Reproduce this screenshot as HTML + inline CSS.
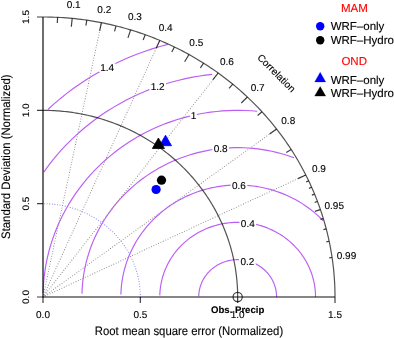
<!DOCTYPE html>
<html><head><meta charset="utf-8"><style>
html,body{margin:0;padding:0;background:#fff;width:394px;height:338px;overflow:hidden}
svg{display:block;will-change:transform}
text{font-family:"Liberation Sans",sans-serif;text-rendering:geometricPrecision;stroke:#000;stroke-width:0.22px;stroke-opacity:0.55}
text.red{stroke:#f00}
</style></head><body>
<svg width="394" height="338" viewBox="0 0 394 338">
<polyline points="276.6,297 276.58,295.88 276.53,294.76 276.44,293.64 276.32,292.53 276.16,291.42 275.97,290.32 275.74,289.22 275.48,288.13 275.19,287.04 274.86,285.97 274.5,284.9 274.1,283.85 273.68,282.81 273.22,281.78 272.72,280.76 272.2,279.76 271.65,278.77 271.06,277.81 270.44,276.85 269.8,275.92 269.13,275.01 268.42,274.11 267.69,273.24 266.94,272.38 266.15,271.55 265.34,270.74 264.51,269.96 263.65,269.2 262.77,268.47 261.87,267.76 260.94,267.07 260,266.42 259.03,265.79 258.04,265.19 257.04,264.62 256.02,264.07 254.98,263.56 253.93,263.08 252.86,262.63 251.77,262.2 250.68,261.81 249.57,261.46 248.46,261.13 247.33,260.83 246.19,260.57 245.05,260.34 243.9,260.15 242.74,259.99 241.58,259.86 240.42,259.76 239.25,259.7 238.09,259.67 236.92,259.67 235.75,259.71 234.59,259.78 233.42,259.89 232.26,260.03 231.11,260.2 229.96,260.4 228.82,260.64 227.69,260.91 226.56,261.22 225.45,261.55 224.35,261.92 223.25,262.32 222.18,262.75 221.11,263.21 220.06,263.7 219.03,264.22 218.01,264.77 217.01,265.35 216.03,265.96 215.07,266.6 214.13,267.26 213.21,267.95 212.31,268.67 211.44,269.41 210.59,270.18 209.76,270.97 208.96,271.78 208.18,272.62 207.43,273.48 206.71,274.36 206.02,275.26 205.35,276.18 204.71,277.12 204.11,278.08 203.53,279.05 202.98,280.04 202.47,281.04 201.98,282.06 201.53,283.1 201.12,284.14 200.73,285.2 200.38,286.27 200.06,287.34 199.77,288.43 199.52,289.52 199.31,290.63 199.12,291.73 198.98,292.84 198.86,293.96 198.79,295.07 198.74,296.19" fill="none" stroke="#A020F0" stroke-width="1.15" stroke-opacity="0.72"/>
<polyline points="315.53,297 315.5,294.76 315.39,292.52 315.22,290.29 314.97,288.06 314.66,285.84 314.28,283.63 313.82,281.43 313.3,279.25 312.71,277.08 312.06,274.93 311.33,272.8 310.54,270.7 309.69,268.61 308.77,266.55 307.78,264.52 306.73,262.52 305.62,260.55 304.45,258.61 303.22,256.71 301.93,254.84 300.59,253.01 299.18,251.22 297.72,249.47 296.21,247.77 294.64,246.1 293.02,244.49 291.36,242.92 289.64,241.4 287.88,239.93 286.07,238.51 284.22,237.15 282.32,235.83 280.39,234.58 278.42,233.38 276.41,232.23 274.37,231.15 272.29,230.12 270.18,229.16 268.05,228.25 265.88,227.41 263.69,226.63 261.48,225.91 259.25,225.26 256.99,224.67 254.72,224.15 252.43,223.69 250.13,223.3 247.82,222.97 245.5,222.71 243.17,222.52 240.84,222.4 238.51,222.34 236.17,222.35 233.84,222.42 231.51,222.57 229.18,222.78 226.86,223.06 224.55,223.4 222.26,223.81 219.98,224.29 217.71,224.83 215.46,225.43 213.23,226.11 211.02,226.84 208.84,227.64 206.69,228.5 204.56,229.42 202.46,230.4 200.39,231.45 198.36,232.55 196.36,233.71 194.4,234.92 192.47,236.2 190.59,237.52 188.75,238.9 186.96,240.34 185.21,241.82 183.51,243.35 181.85,244.94 180.25,246.57 178.7,248.24 177.2,249.96 175.75,251.72 174.36,253.52 173.03,255.36 171.76,257.24 170.55,259.15 169.39,261.1 168.3,263.08 167.27,265.09 166.3,267.13 165.4,269.19 164.56,271.29 163.79,273.4 163.09,275.53 162.45,277.69 161.88,279.86 161.38,282.05 160.94,284.25 160.58,286.46 160.28,288.69 160.06,290.91 159.9,293.15 159.82,295.39" fill="none" stroke="#A020F0" stroke-width="1.15" stroke-opacity="0.72"/>
<polyline points="323.13,220.66 320.7,218.23 318.2,215.88 315.63,213.6 312.98,211.4 310.27,209.27 307.49,207.22 304.65,205.25 301.75,203.37 298.8,201.56 295.78,199.85 292.72,198.22 289.6,196.68 286.44,195.23 283.24,193.88 279.99,192.61 276.71,191.44 273.39,190.37 270.03,189.39 266.65,188.5 263.25,187.72 259.82,187.03 256.37,186.44 252.9,185.96 249.42,185.57 245.93,185.28 242.43,185.09 238.93,185.01 235.42,185.02 231.92,185.14 228.43,185.35 224.94,185.67 221.46,186.08 218,186.6 214.55,187.21 211.13,187.93 207.73,188.74 204.36,189.65 201.01,190.66 197.7,191.76 194.43,192.96 191.19,194.25 188,195.63 184.85,197.1 181.75,198.67 178.7,200.32 175.7,202.06 172.76,203.89 169.88,205.79 167.05,207.78 164.3,209.86 161.6,212.01 158.98,214.23 156.42,216.53 153.94,218.9 151.54,221.35 149.21,223.86 146.96,226.44 144.8,229.08 142.71,231.78 140.72,234.54 138.81,237.36 136.98,240.23 135.25,243.15 133.62,246.12 132.07,249.13 130.62,252.19 129.27,255.29 128.01,258.43 126.85,261.6 125.8,264.8 124.84,268.03 123.98,271.29 123.23,274.57 122.58,277.88 122.04,281.19 121.59,284.53 121.26,287.87 121.02,291.22 120.89,294.58" fill="none" stroke="#A020F0" stroke-width="1.15" stroke-opacity="0.72"/>
<polyline points="294.1,157.82 289.72,156.26 285.29,154.82 280.82,153.52 276.32,152.34 271.77,151.29 267.2,150.38 262.6,149.59 257.98,148.94 253.34,148.42 248.68,148.04 244.02,147.79 239.35,147.68 234.68,147.69 230.01,147.85 225.34,148.13 220.69,148.56 216.06,149.11 211.44,149.8 206.85,150.62 202.28,151.57 197.75,152.66 193.25,153.87 188.8,155.21 184.38,156.68 180.02,158.28 175.7,160 171.45,161.84 167.25,163.81 163.11,165.89 159.05,168.09 155.05,170.41 151.13,172.85 147.28,175.39 143.52,178.05 139.84,180.81 136.25,183.67 132.75,186.64 129.34,189.71 126.04,192.87 122.83,196.13 119.73,199.48 116.73,202.92 113.84,206.44 111.06,210.04 108.4,213.72 105.85,217.47 103.42,221.3 101.12,225.2 98.93,229.16 96.87,233.18 94.94,237.26 93.13,241.39 91.46,245.57 89.92,249.8 88.51,254.07 87.23,258.38 86.09,262.72 85.09,267.1 84.22,271.5 83.49,275.93 82.9,280.37 82.45,284.83 82.14,289.3 81.97,293.78" fill="none" stroke="#A020F0" stroke-width="1.15" stroke-opacity="0.72"/>
<polyline points="257.26,111.28 251.44,110.8 245.61,110.49 239.77,110.34 233.93,110.37 228.09,110.56 222.26,110.92 216.45,111.45 210.66,112.14 204.89,113 199.14,114.02 193.44,115.22 187.77,116.57 182.15,118.09 176.58,119.76 171.06,121.6 165.6,123.59 160.21,125.74 154.89,128.05 149.64,130.51 144.47,133.11 139.39,135.87 134.39,138.77 129.49,141.81 124.68,144.99 119.98,148.31 115.38,151.76 110.89,155.34 106.52,159.05 102.26,162.89 98.13,166.84 94.12,170.91 90.24,175.1 86.49,179.39 82.88,183.8 79.41,188.3 76.08,192.9 72.9,197.59 69.86,202.38 66.98,207.25 64.25,212.2 61.67,217.22 59.26,222.32 57,227.49 54.91,232.71 52.98,238 51.22,243.34 49.62,248.72 48.2,254.15 46.94,259.62 45.86,265.13 44.95,270.66 44.21,276.21 43.65,281.79 43.26,287.37 43.05,292.97" fill="none" stroke="#A020F0" stroke-width="1.15" stroke-opacity="0.72"/>
<polyline points="212.21,74.33 205.25,75.17 198.33,76.2 191.44,77.43 184.59,78.86 177.79,80.48 171.05,82.3 164.36,84.32 157.74,86.52 151.19,88.91 144.72,91.49 138.34,94.26 132.04,97.21 125.84,100.34 119.73,103.64 113.74,107.12 107.86,110.77 102.09,114.59 96.44,118.57 90.93,122.71 85.54,127.01 80.29,131.46 75.18,136.06 70.22,140.81 65.41,145.7 60.76,150.72 56.26,155.87 51.93,161.15 47.76,166.56 43.77,172.08" fill="none" stroke="#A020F0" stroke-width="1.15" stroke-opacity="0.72"/>
<polyline points="167.81,44.4 159.94,46.52 152.14,48.87 144.42,51.44 136.78,54.23 129.23,57.24 121.78,60.47 114.43,63.91 107.2,67.56 100.08,71.41 93.08,75.47 86.22,79.73 79.49,84.19 72.91,88.83 66.47,93.66 60.18,98.68 54.06,103.87 48.1,109.24" fill="none" stroke="#A020F0" stroke-width="1.15" stroke-opacity="0.72"/>
<polyline points="140.33,297 140.29,294.2 140.16,291.4 139.94,288.61 139.63,285.83 139.24,283.05 138.76,280.29 138.2,277.54 137.54,274.81 136.81,272.11 135.99,269.42 135.08,266.76 134.09,264.12 133.02,261.52 131.87,258.94 130.64,256.4 129.33,253.9 127.95,251.44 126.48,249.01 124.95,246.63 123.33,244.3 121.65,242.01 119.89,239.78 118.07,237.59 116.18,235.46 114.22,233.38 112.2,231.36 110.11,229.4 107.97,227.5 105.76,225.66 103.5,223.89 101.19,222.18 98.82,220.54 96.41,218.97 93.94,217.47 91.43,216.04 88.88,214.68 86.28,213.4 83.65,212.19 80.97,211.06 78.27,210.01 75.53,209.03 72.77,208.14 69.97,207.32 67.16,206.59 64.32,205.93 61.46,205.36 58.58,204.87 55.69,204.46 52.79,204.14 49.89,203.9 46.97,203.74 44.05,203.67" fill="none" stroke="#8080FF" stroke-width="1.1" stroke-dasharray="0 2.6" stroke-linecap="round"/>
<line x1="43" y1="297" x2="101.4" y2="22.66" stroke="#8c8c8c" stroke-width="1.1" stroke-dasharray="0 2.6" stroke-linecap="round"/>
<line x1="43" y1="297" x2="159.8" y2="40.38" stroke="#8c8c8c" stroke-width="1.1" stroke-dasharray="0 2.6" stroke-linecap="round"/>
<line x1="43" y1="297" x2="218.2" y2="73" stroke="#8c8c8c" stroke-width="1.1" stroke-dasharray="0 2.6" stroke-linecap="round"/>
<line x1="43" y1="297" x2="276.6" y2="129" stroke="#8c8c8c" stroke-width="1.1" stroke-dasharray="0 2.6" stroke-linecap="round"/>
<line x1="43" y1="297" x2="305.8" y2="174.95" stroke="#8c8c8c" stroke-width="1.1" stroke-dasharray="0 2.6" stroke-linecap="round"/>
<path d="M43,297V17M43,297H335" stroke="#000" stroke-opacity="0.95" stroke-width="1.2" fill="none"/>
<path d="M43,297v6 M43,297h-6 M140.33,297v6 M43,203.67h-6 M237.67,297v6 M43,110.33h-6 M335,297v6 M43,17h-6 " stroke="#000" stroke-opacity="0.75" stroke-width="1.2" fill="none"/>
<polyline points="335,297 334.99,294.2 334.94,291.4 334.87,288.6 334.77,285.8 334.64,283.01 334.47,280.21 334.28,277.42 334.07,274.62 333.82,271.83 333.54,269.05 333.24,266.26 332.9,263.48 332.54,260.7 332.14,257.93 331.72,255.16 331.27,252.39 330.79,249.63 330.28,246.87 329.75,244.12 329.18,241.37 328.59,238.63 327.96,235.9 327.31,233.17 326.63,230.44 325.92,227.73 325.19,225.02 324.42,222.32 323.63,219.62 322.81,216.93 321.96,214.25 321.08,211.58 320.18,208.92 319.24,206.27 318.28,203.62 317.3,200.99 316.28,198.36 315.24,195.75 314.17,193.14 313.07,190.55 311.95,187.96 310.8,185.39 309.62,182.83 308.42,180.28 307.19,177.74 305.93,175.21 304.65,172.69 303.34,170.19 302,167.7 300.64,165.22 299.25,162.76 297.84,160.31 296.4,157.87 294.94,155.45 293.45,153.04 291.94,150.65 290.4,148.27 288.84,145.9 287.25,143.55 285.63,141.22 284,138.9 282.34,136.6 280.65,134.31 278.94,132.04 277.21,129.79 275.46,127.55 273.68,125.33 271.88,123.12 270.05,120.94 268.2,118.77 266.33,116.62 264.44,114.49 262.53,112.37 260.59,110.28 258.63,108.2 256.65,106.14 254.65,104.1 252.63,102.08 250.59,100.08 248.52,98.1 246.44,96.14 244.33,94.2 242.21,92.28 240.06,90.38 237.9,88.5 235.72,86.64 233.51,84.8 231.29,82.99 229.05,81.19 226.79,79.42 224.51,77.67 222.21,75.94 219.9,74.23 217.57,72.55 215.22,70.88 212.85,69.24 210.47,67.63 208.07,66.03 205.65,64.46 203.22,62.91 200.77,61.39 198.3,59.89 195.82,58.41 193.33,56.96 190.82,55.53 188.29,54.12 185.75,52.74 183.2,51.38 180.63,50.05 178.05,48.74 175.45,47.46 172.84,46.2 170.22,44.97 167.58,43.76 164.94,42.58 162.28,41.43 159.61,40.3 156.92,39.19 154.23,38.11 151.52,37.06 148.81,36.03 146.08,35.03 143.34,34.05 140.6,33.1 137.84,32.18 135.07,31.28 132.3,30.41 129.51,29.57 126.72,28.76 123.92,27.97 121.11,27.2 118.29,26.47 115.47,25.76 112.64,25.08 109.8,24.42 106.95,23.8 104.1,23.2 101.24,22.63 98.38,22.08 95.51,21.56 92.63,21.07 89.75,20.61 86.87,20.18 83.98,19.77 81.08,19.39 78.19,19.04 75.29,18.72 72.38,18.42 69.48,18.15 66.57,17.91 63.66,17.7 60.74,17.52 57.83,17.36 54.91,17.23 51.99,17.13 49.07,17.06 46.15,17.02 43.23,17 43,17" fill="none" stroke="#000" stroke-opacity="0.68" stroke-width="1.2"/>
<polyline points="237.67,297 237.66,295.13 237.63,293.27 237.58,291.4 237.51,289.54 237.42,287.67 237.32,285.81 237.19,283.94 237.04,282.08 236.88,280.22 236.69,278.36 236.49,276.51 236.27,274.65 236.02,272.8 235.76,270.95 235.48,269.1 235.18,267.26 234.86,265.42 234.52,263.58 234.16,261.75 233.79,259.92 233.39,258.09 232.97,256.26 232.54,254.44 232.09,252.63 231.61,250.82 231.12,249.01 230.61,247.21 230.09,245.41 229.54,243.62 228.97,241.84 228.39,240.06 227.78,238.28 227.16,236.51 226.52,234.75 225.86,232.99 225.19,231.24 224.49,229.5 223.78,227.76 223.05,226.03 222.3,224.31 221.53,222.59 220.75,220.88 219.95,219.18 219.12,217.49 218.29,215.81 217.43,214.13 216.56,212.46 215.67,210.8 214.76,209.15 213.84,207.51 212.89,205.87 211.94,204.25 210.96,202.63 209.97,201.03 208.96,199.43 207.93,197.85 206.89,196.27 205.83,194.7 204.76,193.15 203.67,191.6 202.56,190.06 201.44,188.54 200.3,187.03 199.14,185.52 197.97,184.03 196.79,182.55 195.58,181.08 194.37,179.63 193.14,178.18 191.89,176.75 190.63,175.32 189.35,173.91 188.06,172.52 186.76,171.13 185.44,169.76 184.1,168.4 182.75,167.05 181.39,165.72 180.02,164.4 178.63,163.09 177.22,161.8 175.81,160.52 174.38,159.25 172.93,158 171.48,156.76 170.01,155.54 168.53,154.33 167.03,153.13 165.53,151.95 164.01,150.78 162.48,149.63 160.93,148.49 159.38,147.36 157.81,146.26 156.23,145.16 154.65,144.08 153.04,143.02 151.43,141.97 149.81,140.94 148.18,139.93 146.54,138.92 144.88,137.94 143.22,136.97 141.54,136.02 139.86,135.08 138.17,134.16 136.46,133.26 134.75,132.37 133.03,131.5 131.3,130.64 129.56,129.8 127.81,128.98 126.06,128.18 124.29,127.39 122.52,126.62 120.74,125.86 118.95,125.13 117.15,124.41 115.35,123.7 113.54,123.02 111.72,122.35 109.9,121.7 108.06,121.07 106.23,120.45 104.38,119.86 102.53,119.28 100.68,118.71 98.81,118.17 96.95,117.64 95.07,117.14 93.19,116.65 91.31,116.17 89.42,115.72 87.53,115.28 85.63,114.86 83.73,114.47 81.83,114.08 79.92,113.72 78,113.38 76.09,113.05 74.17,112.74 72.24,112.45 70.32,112.18 68.39,111.93 66.46,111.69 64.52,111.48 62.59,111.28 60.65,111.1 58.71,110.94 56.77,110.8 54.83,110.68 52.88,110.57 50.94,110.49 48.99,110.42 47.05,110.37 45.1,110.34 43.16,110.33 43,110.33" fill="none" stroke="#000" stroke-opacity="0.68" stroke-width="1.2"/>
<path d="M72.2,18.4L71.32,26.76M101.4,22.66L99.65,30.89M130.6,29.9L127.97,37.91M159.8,40.38L156.3,48.07M189,54.51L184.62,61.79M218.2,73L212.94,79.72M247.4,97.04L241.27,103.04M276.6,129L269.59,134.04M305.8,174.95L297.92,178.61M57.6,17.35L57.31,22.94M86.8,20.17L85.92,25.7M116,25.89L114.54,31.31M145.2,34.71L143.16,39.96M174.4,46.95L171.77,51.95M203.6,63.15L200.39,67.83M232.8,84.22L229,88.47M262,111.8L257.62,115.5M291.2,149.5L286.24,152.45M320.4,209.57L314.85,211.32M308.72,180.91L306.06,182.07M311.64,187.26L308.95,188.36M314.56,194.08L311.84,195.11M317.48,201.47L314.74,202.43M320.4,209.57L317.63,210.44M323.32,218.6L320.52,219.38M326.24,228.93L323.41,229.61M329.16,241.28L326.3,241.84M332.08,257.5L329.19,257.9" stroke="#000" stroke-opacity="0.75" stroke-width="1.2" fill="none"/>
<rect x="238.99" y="256.53" width="16.68" height="8.6" fill="#fff"/>
<text x="247.33" y="264.73" font-size="10" text-anchor="middle">0.2</text>
<rect x="239.48" y="218.67" width="16.68" height="8.6" fill="#fff"/>
<text x="247.82" y="226.87" font-size="10" text-anchor="middle">0.4</text>
<rect x="230.59" y="180.71" width="16.68" height="8.6" fill="#fff"/>
<text x="238.93" y="188.91" font-size="10" text-anchor="middle">0.6</text>
<rect x="212.35" y="144.26" width="16.68" height="8.6" fill="#fff"/>
<text x="220.69" y="152.46" font-size="10" text-anchor="middle">0.8</text>
<rect x="190.1" y="110.92" width="6.67" height="8.6" fill="#fff"/>
<text x="193.44" y="119.12" font-size="10" text-anchor="middle">1</text>
<rect x="149.4" y="82.22" width="16.68" height="8.6" fill="#fff"/>
<text x="157.74" y="90.42" font-size="10" text-anchor="middle">1.2</text>
<rect x="98.86" y="63.26" width="16.68" height="8.6" fill="#fff"/>
<text x="107.2" y="71.46" font-size="10" text-anchor="middle">1.4</text>
<text x="73.66" y="8.05" font-size="10" text-anchor="middle">0.1</text>
<text x="104.32" y="12.52" font-size="10" text-anchor="middle">0.2</text>
<text x="134.98" y="20.12" font-size="10" text-anchor="middle">0.3</text>
<text x="165.64" y="31.12" font-size="10" text-anchor="middle">0.4</text>
<text x="196.3" y="45.97" font-size="10" text-anchor="middle">0.5</text>
<text x="226.96" y="65.38" font-size="10" text-anchor="middle">0.6</text>
<text x="257.62" y="90.62" font-size="10" text-anchor="middle">0.7</text>
<text x="288.28" y="124.18" font-size="10" text-anchor="middle">0.8</text>
<text x="318.94" y="172.43" font-size="10" text-anchor="middle">0.9</text>
<text x="334.27" y="208.78" font-size="10" text-anchor="middle">0.95</text>
<text x="346.53" y="259.11" font-size="10" text-anchor="middle">0.99</text>
<text x="276.6" y="76.58" font-size="10" text-anchor="middle" transform="rotate(45 276.6 73)">Correlation</text>
<text x="43" y="318.1" font-size="10" text-anchor="middle">0.0</text>
<text x="0" y="0" font-size="10" text-anchor="middle" transform="translate(29.1 297) rotate(-90) scale(1 0.94)">0.0</text>
<text x="140.33" y="318.1" font-size="10" text-anchor="middle">0.5</text>
<text x="0" y="0" font-size="10" text-anchor="middle" transform="translate(29.1 203.67) rotate(-90) scale(1 0.94)">0.5</text>
<text x="237.67" y="318.1" font-size="10" text-anchor="middle">1.0</text>
<text x="0" y="0" font-size="10" text-anchor="middle" transform="translate(29.1 110.33) rotate(-90) scale(1 0.94)">1.0</text>
<text x="335" y="318.1" font-size="10" text-anchor="middle">1.5</text>
<text x="0" y="0" font-size="10" text-anchor="middle" transform="translate(29.1 17) rotate(-90) scale(1 0.94)">1.5</text>
<circle cx="237.67" cy="297" r="4.6" fill="none" stroke="#000" stroke-opacity="0.75" stroke-width="1.2"/>
<text x="237.67" y="313" font-size="9.6" font-weight="bold" text-anchor="middle">Obs. Precip</text>
<circle cx="156.1" cy="189.5" r="4.6" fill="#0000FF"/>
<circle cx="161.5" cy="180.2" r="4.6" fill="#000"/>
<polygon points="165.5,135.2 171.56,145.7 159.44,145.7" fill="#0000FF" stroke="#0000FF" stroke-width="0.8"/>
<polygon points="158.4,138 164.46,148.5 152.34,148.5" fill="#000" stroke="#000" stroke-width="0.8"/>
<text x="0" y="0" font-size="12.2" text-anchor="middle" transform="translate(189 334.5) scale(0.93 1)">Root mean square error (Normalized)</text>
<text x="0" y="0" font-size="12.2" text-anchor="middle" transform="translate(9.8 156.7) rotate(-90) scale(0.93 1)">Standard Deviation (Normalized)</text>
<text x="354.4" y="12.3" font-size="11.5" fill="#FF0000" class="red" text-anchor="middle">MAM</text>
<circle cx="320.2" cy="26.3" r="4.2" fill="#0000FF"/>
<text x="330.7" y="30.4" font-size="11.5">WRF–only</text>
<circle cx="320.2" cy="40.2" r="4.2" fill="#000"/>
<text x="330.7" y="44.2" font-size="11.5">WRF–Hydro</text>
<text x="354.2" y="65.4" font-size="11.5" fill="#FF0000" class="red" text-anchor="middle">OND</text>
<polygon points="320.2,72.32 325.72,81.89 314.68,81.89" fill="#0000FF" stroke="#0000FF" stroke-width="0.3"/>
<text x="330.7" y="84" font-size="11.5">WRF–only</text>
<polygon points="320.2,86.52 325.72,96.09 314.68,96.09" fill="#000" stroke="#000" stroke-width="0.3"/>
<text x="330.7" y="96.5" font-size="11.5">WRF–Hydro</text>
</svg>
</body></html>
